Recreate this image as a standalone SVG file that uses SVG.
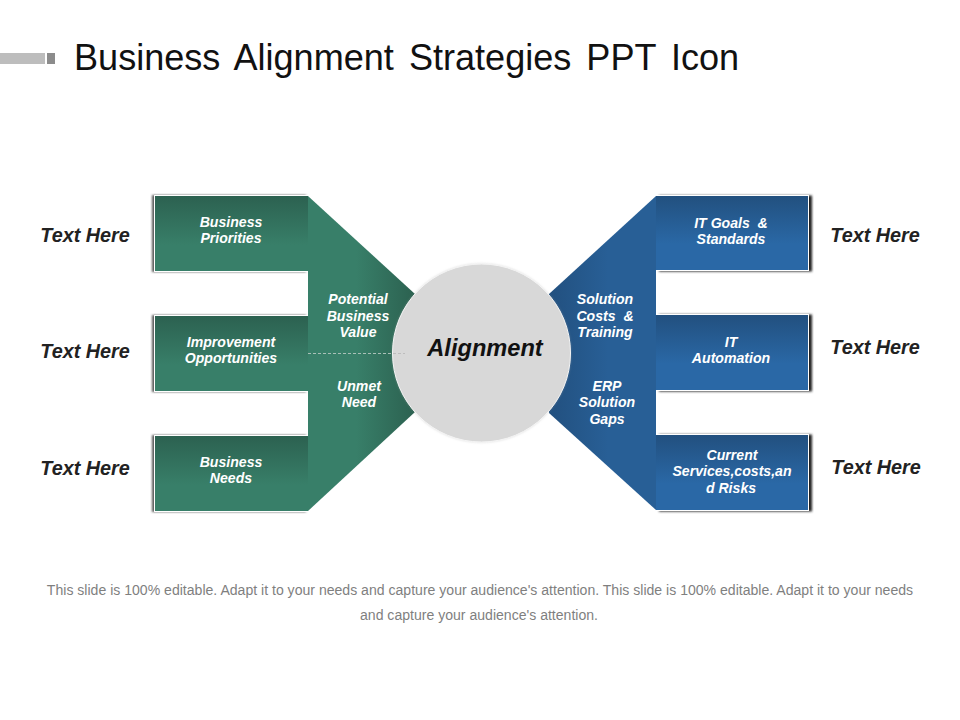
<svg xmlns="http://www.w3.org/2000/svg" width="960" height="720" viewBox="0 0 960 720">
<style>
text{font-family:"Liberation Sans",Arial,sans-serif;text-anchor:middle}
.t{font-size:14.1px;font-weight:bold;font-style:italic;fill:#fff}
.h{font-size:19.8px;font-weight:bold;font-style:italic;fill:#222}
.b{font-size:14.07px;fill:#7f7f7f}
.g{fill:url(#gg)}
.u{fill:url(#bg)}
.sl{fill:#fff;filter:url(#sl)}
.sr{fill:#fff;filter:url(#sr)}
</style>
<defs>
<linearGradient id="gg" x1="0" y1="0" x2="0" y2="1"><stop offset="0" stop-color="#2c6150"/><stop offset="0.65" stop-color="#387f69"/><stop offset="1" stop-color="#387f69"/></linearGradient>
<linearGradient id="bg" x1="0" y1="0" x2="0" y2="1"><stop offset="0" stop-color="#22507f"/><stop offset="0.65" stop-color="#2a68a6"/><stop offset="1" stop-color="#2a68a6"/></linearGradient>
<linearGradient id="ga" gradientUnits="userSpaceOnUse" x1="415" y1="0" x2="308" y2="0"><stop offset="0" stop-color="#2c6150"/><stop offset="0.55" stop-color="#387f69"/><stop offset="1" stop-color="#387f69"/></linearGradient>
<linearGradient id="ba" gradientUnits="userSpaceOnUse" x1="549" y1="0" x2="656" y2="0"><stop offset="0" stop-color="#22507f"/><stop offset="0.55" stop-color="#285f96"/><stop offset="1" stop-color="#285f96"/></linearGradient>
<filter id="sl" x="-10%" y="-10%" width="120%" height="120%"><feDropShadow dx="-2" dy="0" stdDeviation="0.8" flood-color="#444" flood-opacity="0.9"/></filter>
<filter id="sr" x="-10%" y="-10%" width="120%" height="120%"><feDropShadow dx="3" dy="0.5" stdDeviation="1" flood-color="#222" flood-opacity="1"/></filter>
<filter id="sc" x="-10%" y="-10%" width="120%" height="120%"><feDropShadow dx="0" dy="0" stdDeviation="1.2" flood-color="#aaa" flood-opacity="0.4"/></filter>
</defs>

<g id="header">
<rect x="0" y="53" width="45" height="11" fill="#bdbdbd"/>
<rect x="47" y="53" width="8" height="11" fill="#8c8c8c"/>
<text x="74" y="70" font-size="36.1" fill="#111" style="text-anchor:start;word-spacing:5px">Business Alignment Strategies PPT Icon</text>
</g>

<g id="left-arrow">
<path d="M308 196L415 294L415 412L308 511Z" fill="url(#ga)"/>
<text class="t" x="358" y="303.5">Potential</text><text class="t" x="358" y="320.5">Business</text><text class="t" x="358" y="336.5">Value</text>
<text class="t" x="359" y="390.5">Unmet</text><text class="t" x="359" y="406.5">Need</text>
</g>
<g id="right-arrow">
<path d="M656 196L549 294L549 413L656 510Z" fill="url(#ba)"/>
<text class="t" x="605" y="303.5">Solution</text><text class="t" x="605" y="320.5" xml:space="preserve">Costs  &amp;</text><text class="t" x="605" y="336.5">Training</text>
<text class="t" x="607" y="390.5">ERP</text><text class="t" x="607" y="406.5">Solution</text><text class="t" x="607" y="423.5">Gaps</text>
</g>

<g id="alignment">
<circle cx="481.5" cy="353" r="89" fill="#d8d8d8" stroke="#f4f4f4" stroke-width="1" filter="url(#sc)"/>
<text x="485" y="356" font-size="23.6" font-weight="bold" font-style="italic" fill="#111">Alignment</text>
</g>

<g id="connectors">
<line x1="308" y1="353.5" x2="393" y2="353.5" stroke="#a9c0b7" stroke-width="1" stroke-dasharray="3 2"/>
<line x1="393" y1="353.5" x2="405" y2="353.5" stroke="#bdbdbd" stroke-width="1" stroke-dasharray="3 2"/>
</g>

<g id="business-priorities">
<rect class="sl" x="154" y="195" width="154" height="77"/><rect class="g" x="155" y="196" width="153" height="75"/>
<text class="t" x="231" y="227">Business</text><text class="t" x="231" y="243">Priorities</text>
</g>
<g id="improvement-opportunities">
<rect class="sl" x="154" y="315" width="154" height="77"/><rect class="g" x="155" y="316" width="153" height="75"/>
<text class="t" x="231" y="347">Improvement</text><text class="t" x="231" y="363">Opportunities</text>
</g>
<g id="business-needs">
<rect class="sl" x="154" y="435" width="154" height="77"/><rect class="g" x="155" y="436" width="153" height="75"/>
<text class="t" x="231" y="467">Business</text><text class="t" x="231" y="483">Needs</text>
</g>

<g id="it-goals">
<rect class="sr" x="656" y="195" width="153" height="76"/><rect class="u" x="656" y="196" width="152" height="74"/>
<text class="t" x="731" y="228" xml:space="preserve">IT Goals  &amp;</text><text class="t" x="731" y="244">Standards</text>
</g>
<g id="it-automation">
<rect class="sr" x="656" y="314" width="153" height="77"/><rect class="u" x="656" y="315" width="152" height="75"/>
<text class="t" x="731" y="347">IT</text><text class="t" x="731" y="363">Automation</text>
</g>
<g id="current-services">
<rect class="sr" x="656" y="434" width="153" height="77"/><rect class="u" x="656" y="435" width="152" height="75"/>
<text class="t" x="732" y="460">Current</text><text class="t" x="732" y="476">Services,costs,an</text><text class="t" x="731" y="493">d Risks</text>
</g>

<g id="labels">
<text class="h" x="85" y="242">Text Here</text>
<text class="h" x="85" y="358">Text Here</text>
<text class="h" x="85" y="475">Text Here</text>
<text class="h" x="875" y="242">Text Here</text>
<text class="h" x="875" y="354">Text Here</text>
<text class="h" x="876" y="474">Text Here</text>
</g>

<g id="body-text">
<text class="b" x="480" y="595">This slide is 100% editable. Adapt it to your needs and capture your audience's attention. This slide is 100% editable. Adapt it to your needs</text>
<text class="b" x="479" y="620">and capture your audience's attention.</text>
</g>
</svg>
